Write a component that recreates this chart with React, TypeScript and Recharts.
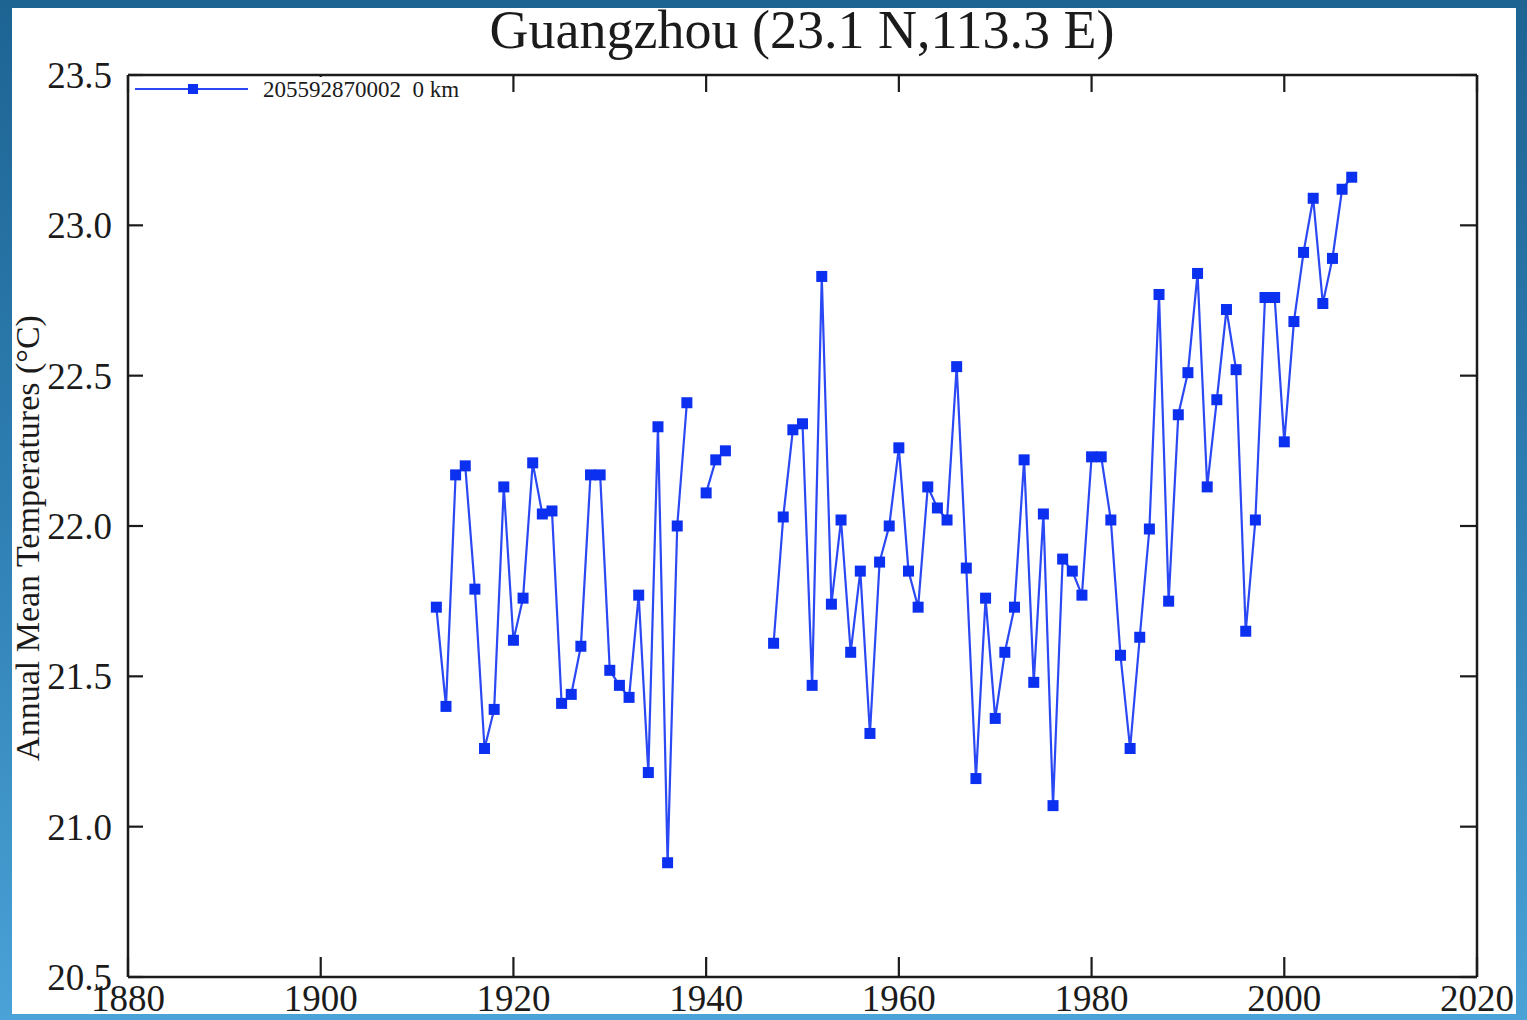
import { LineChart, Line, XAxis, YAxis, Legend } from 'recharts';

// annual mean temperature, station 205592870002 (gaps are missing years)
const years = [
  1912, 1913, 1914, 1915, 1916, 1917, 1918, 1919, 1920, 1921,
  1922, 1923, 1924, 1925, 1926, 1927, 1928, 1929, 1930, 1931,
  1932, 1933, 1934, 1935, 1936, 1937, 1938, 1939, 1940, 1941,
  1942, 1943, 1944, 1945, 1946, 1947, 1948, 1949, 1950, 1951,
  1952, 1953, 1954, 1955, 1956, 1957, 1958, 1959, 1960, 1961,
  1962, 1963, 1964, 1965, 1966, 1967, 1968, 1969, 1970, 1971,
  1972, 1973, 1974, 1975, 1976, 1977, 1978, 1979, 1980, 1981,
  1982, 1983, 1984, 1985, 1986, 1987, 1988, 1989, 1990, 1991,
  1992, 1993, 1994, 1995, 1996, 1997, 1998, 1999, 2000, 2001,
  2002, 2003, 2004, 2005, 2006, 2007,
];

const temps: (number | null)[] = [
  21.73, 21.4, 22.17, 22.2, 21.79, 21.26, 21.39, 22.13, 21.62, 21.76,
  22.21, 22.04, 22.05, 21.41, 21.44, 21.6, 22.17, 22.17, 21.52, 21.47,
  21.43, 21.77, 21.18, 22.33, 20.88, 22.0, 22.41, null, 22.11, 22.22,
  22.25, null, null, null, null, 21.61, 22.03, 22.32, 22.34, 21.47,
  22.83, 21.74, 22.02, 21.58, 21.85, 21.31, 21.88, 22.0, 22.26, 21.85,
  21.73, 22.13, 22.06, 22.02, 22.53, 21.86, 21.16, 21.76, 21.36, 21.58,
  21.73, 22.22, 21.48, 22.04, 21.07, 21.89, 21.85, 21.77, 22.23, 22.23,
  22.02, 21.57, 21.26, 21.63, 21.99, 22.77, 21.75, 22.37, 22.51, 22.84,
  22.13, 22.42, 22.72, 22.52, 21.65, 22.02, 22.76, 22.76, 22.28, 22.68,
  22.91, 23.09, 22.74, 22.89, 23.12, 23.16,
];

const yearTicks = [1880, 1900, 1920, 1940, 1960, 1980, 2000, 2020];
const tempTicks = [20.5, 21.0, 21.5, 22.0, 22.5, 23.0, 23.5];

const title = 'Guangzhou (23.1 N,113.3 E)';
const yTitle = 'Annual Mean Temperatures (°C)';
const seriesName = '205592870002  0 km';

const data = years.map((year, i) => ({ year, temp: temps[i] }));

const SERIF = '"Liberation Serif", "Times New Roman", Times, serif';
const LINE = '#2a48f4';
const MARK = '#0c30f0';
const INK = '#1b1b1b';

const BOTTOM_GAP = 8;
const LEFT_GAP = 16;

// ticks point into the plot, like the original IDL-style frame
const BottomTick = (props: any) => {
  const x = Number(props.x);
  const y = Number(props.y);
  return (
    <g>
      <line x1={x} x2={x} y1={y - BOTTOM_GAP} y2={y - BOTTOM_GAP - 20} stroke={INK} strokeWidth={2.2} />
      <text x={x} y={y} dy="0.71em" textAnchor="middle" fontFamily={SERIF} fontSize={37} fill={INK}>
        {props.payload.value}
      </text>
    </g>
  );
};

const LeftTick = (props: any) => {
  const x = Number(props.x);
  const y = Number(props.y);
  return (
    <g>
      <line x1={x + LEFT_GAP} x2={x + LEFT_GAP + 15} y1={y} y2={y} stroke={INK} strokeWidth={2.2} />
      <text x={x} y={y} dy="0.355em" textAnchor="end" fontFamily={SERIF} fontSize={37} fill={INK}>
        {Number(props.payload.value).toFixed(1)}
      </text>
    </g>
  );
};

const TopTick = (props: any) => (
  <line x1={props.x} x2={props.x} y1={props.y} y2={props.y + 17} stroke={INK} strokeWidth={2.2} />
);

const RightTick = (props: any) => (
  <line x1={props.x} x2={props.x - 17} y1={props.y} y2={props.y} stroke={INK} strokeWidth={2.2} />
);

const frame = { stroke: INK, strokeWidth: 2.5 };

const SquareDot = (props: any) => {
  const { cx, cy, index, payload } = props;
  if (cx == null || cy == null || payload?.temp == null) return <g key={`n${index}`} />;
  return <rect key={`d${index}`} x={cx - 5.5} y={cy - 5.5} width={11} height={11} fill={MARK} />;
};

const LegendBox = () => (
  <svg width={345} height={24} style={{ display: 'block', background: '#fff' }}>
    <line x1={5} x2={118} y1={12} y2={12} stroke={LINE} strokeWidth={2.2} />
    <rect x={58} y={7} width={10} height={10} fill={MARK} />
    <text x={133} y={20} fontFamily={SERIF} fontSize={23} fill={INK} style={{ whiteSpace: 'pre' }}>
      {seriesName}
    </text>
  </svg>
);

const YTitle = (props: any) => {
  const { viewBox } = props;
  const cx = viewBox.x + 15;
  const cy = viewBox.y + viewBox.height / 2 + 12;
  return (
    <text
      x={cx}
      y={cy}
      transform={`rotate(-90 ${cx} ${cy})`}
      textAnchor="middle"
      dominantBaseline="central"
      fontFamily={SERIF}
      fontSize={34}
      fill={INK}
    >
      {yTitle}
    </text>
  );
};

export default function App() {
  return (
    <div
      style={{
        position: 'fixed',
        left: 0,
        top: 0,
        width: 1527,
        height: 1020,
        background: 'linear-gradient(to bottom, #1d6493 0%, #2f7fb3 50%, #4aa2d6 100%)',
      }}
    >
      <div
        style={{
          position: 'absolute',
          left: 12,
          top: 8,
          width: 1504,
          height: 1006,
          background: '#fff',
          overflow: 'hidden',
        }}
      >
        <div
          style={{
            position: 'absolute',
            left: 790,
            top: -5,
            transform: 'translateX(-50%)',
            fontFamily: SERIF,
            fontSize: 54,
            lineHeight: '54px',
            color: INK,
            whiteSpace: 'nowrap',
            zIndex: 2,
          }}
        >
          {title}
        </div>
        <LineChart width={1504} height={1006} data={data} margin={{ top: 66, right: 38, bottom: 0, left: 0 }}>
          {/* scales used by the series (take no room) */}
          <XAxis dataKey="year" type="number" domain={[1880, 2020]} height={0} hide />
          <YAxis dataKey="temp" type="number" domain={[20.5, 23.5]} width={0} hide />
          {/* visible frame: four axes with inward ticks */}
          <XAxis
            xAxisId="bottom"
            dataKey="year"
            type="number"
            domain={[1880, 2020]}
            ticks={yearTicks}
            interval={0}
            height={37}
            tickSize={0}
            tickMargin={BOTTOM_GAP}
            tick={BottomTick}
            tickLine={false}
            axisLine={frame}
          />
          <XAxis
            xAxisId="top"
            orientation="top"
            dataKey="year"
            type="number"
            domain={[1880, 2020]}
            ticks={yearTicks}
            interval={0}
            height={1}
            tickSize={0}
            tickMargin={0}
            tick={TopTick}
            tickLine={false}
            axisLine={frame}
          />
          <YAxis
            yAxisId="left"
            dataKey="temp"
            type="number"
            domain={[20.5, 23.5]}
            allowDataOverflow
            ticks={tempTicks}
            interval={0}
            width={116}
            tickSize={0}
            tickMargin={LEFT_GAP}
            tick={LeftTick}
            tickLine={false}
            axisLine={frame}
            label={{ content: YTitle }}
          />
          <YAxis
            yAxisId="right"
            orientation="right"
            dataKey="temp"
            type="number"
            domain={[20.5, 23.5]}
            allowDataOverflow
            ticks={tempTicks}
            interval={0}
            width={1}
            tickSize={0}
            tickMargin={0}
            tick={RightTick}
            tickLine={false}
            axisLine={frame}
          />
          <Legend
            layout="vertical"
            align="center"
            verticalAlign="middle"
            wrapperStyle={{ top: 69, left: 118, width: 345, height: 24, lineHeight: 0 }}
            content={LegendBox}
          />
          <Line
            type="linear"
            dataKey="temp"
            name={seriesName}
            stroke={LINE}
            strokeWidth={2.2}
            dot={SquareDot}
            activeDot={false}
            connectNulls={false}
            isAnimationActive={false}
          />
        </LineChart>
      </div>
    </div>
  );
}
